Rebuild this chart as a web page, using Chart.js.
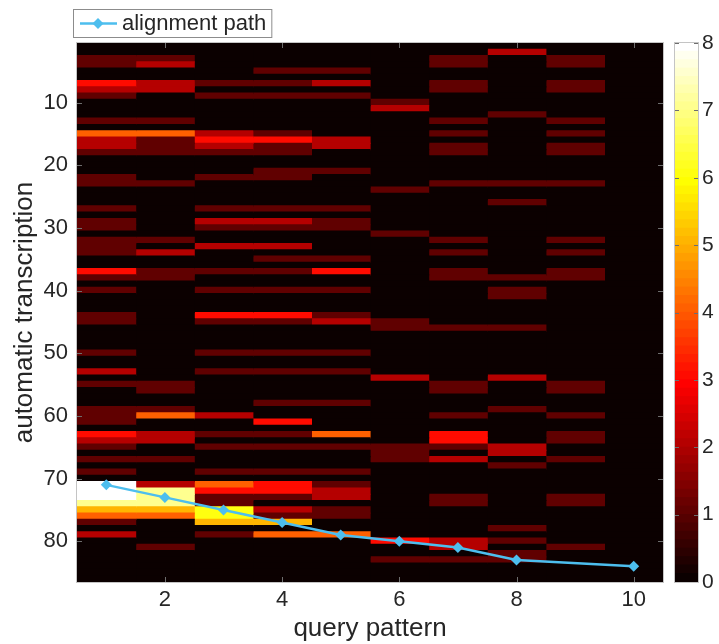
<!DOCTYPE html>
<html>
<head>
<meta charset="utf-8">
<title>alignment path</title>
<script src="https://cdn.jsdelivr.net/npm/chart.js@4.4.0/dist/chart.umd.min.js"></script>
<style>
  html, body { margin: 0; padding: 0; background: #fff; }
  #wrap { position: relative; width: 719px; height: 644px; }
  #costChart { position: absolute; left: 0; top: 0; }
  #barChart { position: absolute; left: 660px; top: 0; }
</style>
</head>
<body>
<div id="wrap">
  <canvas id="costChart" width="719" height="644"></canvas>
  <canvas id="barChart" width="59" height="644"></canvas>
</div>
<script>
// query pattern positions (columns) and tick labels
const queryIdx = [1, 2, 3, 4, 5, 6, 7, 8, 9, 10];
const xTicks = [2, 4, 6, 8, 10];
const yTicks = [10, 20, 30, 40, 50, 60, 70, 80];
const cbTicks = [0, 1, 2, 3, 4, 5, 6, 7, 8];
const cbMin = 0, cbMax = 8;

// cost values per query column, rows 1..86 of the automatic transcription
const col1 = [0,0,1,1,0,0,3,2,1,0, 0,0,1,0,4,2,2,1,0,0, 0,1,1,0,0,0,1,0,1,1, 0,1,1,1,0,0,3,1,0,1,
              0,0,0,1,1,0,0,0,0,1, 0,0,2,0,1,0,0,0,1,1, 1,0,3,2,1,0,1,0,1,0, 8,8,8,7,5,4,1,0,2,0, 0,0,0,0,0,0];
const col2 = [0,0,1,2,0,0,2,2,0,0, 0,0,1,0,4,1,1,1,0,0, 0,0,1,0,0,0,0,0,0,0, 0,1,0,2,0,0,1,1,0,0,
              0,0,0,0,0,0,0,0,0,0, 0,0,0,0,1,1,0,0,1,4, 0,0,2,2,0,0,1,0,0,0, 2,7,7,7,5,4,0,0,0,0, 1,0,0,0,0,0];
const col3 = [0,0,0,0,0,0,1,0,1,0, 0,0,0,0,2,3,2,1,0,0, 0,1,0,0,0,0,1,0,2,1, 0,0,2,0,0,0,1,0,0,1,
              0,0,0,3,1,0,0,0,0,1, 0,0,1,0,0,0,0,0,0,2, 0,0,1,0,1,0,0,0,1,0, 4,3,1,1,6,6,5,0,1,0, 0,0,0,0,0,0];
const col4 = [0,0,0,0,1,0,1,0,1,0, 0,0,0,0,1,3,1,1,0,0, 1,1,0,0,0,0,1,0,2,1, 0,0,2,0,1,0,1,0,0,1,
              0,0,0,3,1,0,0,0,0,1, 0,0,1,0,0,0,0,1,0,0, 3,0,1,0,1,0,0,0,1,0, 3,3,1,0,2,1,5,0,4,0, 0,0,0,0,0,0];
const col5 = [0,0,0,0,1,0,2,0,1,0, 0,0,0,0,0,2,2,0,0,0, 1,0,0,0,0,0,1,0,1,1, 0,0,0,0,1,0,3,0,0,1,
              0,0,0,1,2,0,0,0,0,1, 0,0,1,0,0,0,0,1,0,0, 0,0,4,0,1,0,0,0,1,0, 1,2,2,0,1,1,0,0,4,0, 0,0,0,0,0,0];
const col6 = [0,0,0,0,0,0,0,0,0,1, 2,0,0,0,0,0,0,0,0,0, 0,0,0,1,0,0,0,0,0,0, 1,0,0,0,0,0,0,0,0,0,
              0,0,0,0,1,1,0,0,0,0, 0,0,0,2,0,0,0,0,0,0, 0,0,0,0,1,1,1,0,0,0, 0,0,0,0,0,0,0,0,0,3, 0,0,1,0,0,0];
const col7 = [0,0,1,1,0,0,1,1,0,0, 0,0,1,0,1,0,1,1,0,0, 0,0,1,0,0,0,0,0,0,0, 0,1,0,1,0,0,1,1,0,0,
              0,0,0,0,0,1,0,0,0,0, 0,0,0,0,1,1,0,0,0,1, 0,0,3,3,1,0,2,0,0,0, 0,0,1,1,0,0,0,0,0,2, 2,0,1,0,0,0];
const col8 = [0,2,0,0,0,0,0,0,0,0, 0,1,0,0,0,0,0,0,0,0, 0,0,1,0,0,1,0,0,0,0, 0,0,0,0,0,0,0,1,0,1,
              1,0,0,0,0,1,0,0,0,0, 0,0,0,2,0,0,0,0,1,0, 0,0,0,0,2,2,0,1,0,0, 0,0,0,0,0,0,0,1,0,1, 0,1,1,0,0,0];
const col9 = [0,0,1,1,0,0,1,1,0,0, 0,0,1,0,1,0,1,1,0,0, 0,0,1,0,0,0,0,0,0,0, 0,1,0,1,0,0,1,1,0,0,
              0,0,0,0,0,0,0,0,0,0, 0,0,0,0,1,1,0,0,0,1, 0,0,1,1,0,0,1,0,0,0, 0,0,1,1,0,0,0,0,0,0, 1,0,0,0,0,0];
const col10 = [0,0,0,0,0,0,0,0,0,0, 0,0,0,0,0,0,0,0,0,0, 0,0,0,0,0,0,0,0,0,0, 0,0,0,0,0,0,0,0,0,0,
               0,0,0,0,0,0,0,0,0,0, 0,0,0,0,0,0,0,0,0,0, 0,0,0,0,0,0,0,0,0,0, 0,0,0,0,0,0,0,0,0,0, 0,0,0,0,0,0];

// alignment path (query pattern -> transcription row)
const pathQuery = [1, 2, 3, 4, 5, 6, 7, 8, 10];
const pathRow = [71, 73, 75, 77, 79, 80, 81, 83, 84];

const columns = [col1, col2, col3, col4, col5, col6, col7, col8, col9, col10];
const rowIdx = col1.map((v, i) => i + 1);

const fontFamily = '"Liberation Sans", Arial, Helvetica, sans-serif';
const textColor = '#262626';

// MATLAB style "hot" colormap, 64 levels
function hotColor(v) {
    const m = 64, n = 24;
    let k = Math.floor((v - cbMin) / (cbMax - cbMin) * m) + 1;
    k = Math.max(1, Math.min(m, k));
    const r = k <= n ? k / n : 1;
    const g = k <= n ? 0 : (k <= 2 * n ? (k - n) / n : 1);
    const b = k <= 2 * n ? 0 : (k - 2 * n) / (m - 2 * n);
    return 'rgb(' + Math.round(r * 255) + ',' + Math.round(g * 255) + ',' + Math.round(b * 255) + ')';
}

// fill the plot area with the lowest colour so no seams show between cells
const areaFill = {
    id: 'areaFill',
    beforeDatasetsDraw(chart) {
        const a = chart.chartArea;
        const g = chart.ctx;
        g.save();
        g.fillStyle = hotColor(cbMin);
        g.fillRect(a.left, a.top, a.right - a.left, a.bottom - a.top);
        g.restore();
    }
};

// frame and inward tick marks like the original axes
const axesFrame = {
    id: 'axesFrame',
    afterDatasetsDraw(chart, args, opts) {
        const g = chart.ctx;
        const a = chart.chartArea;
        g.save();
        g.strokeStyle = opts.tickColor;
        g.lineWidth = 1;
        g.beginPath();
        for (const id of Object.keys(chart.scales)) {
            const s = chart.scales[id];
            if (!s.options.display) continue;
            s.ticks.forEach(t => {
                const p = Math.round(s.getPixelForValue(t.value)) + 0.5;
                if (s.isHorizontal()) {
                    g.moveTo(p, a.top); g.lineTo(p, a.top + opts.tickLen);
                    g.moveTo(p, a.bottom); g.lineTo(p, a.bottom - opts.tickLen);
                } else {
                    g.moveTo(a.left, p); g.lineTo(a.left + opts.tickLen, p);
                    g.moveTo(a.right, p); g.lineTo(a.right - opts.tickLen, p);
                }
            });
        }
        g.stroke();
        g.strokeStyle = opts.color;
        g.strokeRect(a.left - 0.5, a.top - 0.5, a.right - a.left + 1, a.bottom - a.top + 1);
        g.restore();
    }
};

// legend box with line + diamond marker
const pathLegend = {
    id: 'pathLegend',
    afterDraw(chart) {
        const ds = chart.data.datasets[0];
        const g = chart.ctx;
        const left = chart.chartArea.left - 4, top = 9, h = 28;
        g.save();
        g.font = '22px ' + fontFamily;
        const w = 49 + g.measureText(ds.label).width + 5;
        g.fillStyle = '#fff';
        g.fillRect(left, top, w, h);
        g.strokeStyle = '#8c8c8c';
        g.lineWidth = 1;
        g.strokeRect(left + 0.5, top + 0.5, w, h);
        const ly = top + h / 2 + 0.5;
        g.strokeStyle = ds.borderColor;
        g.lineWidth = ds.borderWidth;
        g.beginPath();
        g.moveTo(left + 7, ly);
        g.lineTo(left + 44, ly);
        g.stroke();
        const cx = left + 25, r = ds.pointRadius;
        g.fillStyle = ds.backgroundColor;
        g.beginPath();
        g.moveTo(cx, ly - r); g.lineTo(cx + r, ly); g.lineTo(cx, ly + r); g.lineTo(cx - r, ly);
        g.closePath();
        g.fill();
        g.fillStyle = textColor;
        g.textBaseline = 'middle';
        g.fillText(ds.label, left + 49, ly);
        g.restore();
    }
};

const heatSets = columns.map((vals, c) => ({
    type: 'bar',
    label: 'query ' + queryIdx[c],
    data: vals.map((v, i) => ({ x: queryIdx[c], y: [rowIdx[i] - 0.5, rowIdx[i] + 0.5] })),
    backgroundColor: vals.map(hotColor),
    borderWidth: 0,
    inflateAmount: 0.6,
    grouped: false,
    barPercentage: 1,
    categoryPercentage: 1,
    order: 2
}));

const pathSet = {
    type: 'line',
    label: 'alignment path',
    data: pathQuery.map((q, i) => ({ x: q, y: pathRow[i] })),
    borderColor: '#4dbeee',
    backgroundColor: '#4dbeee',
    borderWidth: 2.5,
    pointStyle: 'rectRot',
    pointRadius: 5.5,
    pointBorderWidth: 0,
    order: 0
};

new Chart(document.getElementById('costChart').getContext('2d'), {
    type: 'bar',
    data: { datasets: [pathSet].concat(heatSets) },
    options: {
        responsive: false,
        animation: false,
        devicePixelRatio: 1,
        events: [],
        layout: { padding: { left: 0, top: 43, right: 56, bottom: 0 } },
        plugins: {
            legend: { display: false },
            tooltip: { enabled: false },
            axesFrame: { color: '#c4c4c4', tickColor: '#6e6e6e', tickLen: 5 }
        },
        scales: {
            x: {
                type: 'linear',
                min: 0.5,
                max: 10.5,
                offset: false,
                afterBuildTicks: s => { s.ticks = xTicks.map(v => ({ value: v })); },
                afterFit: s => { s.height = 62; },
                grid: { display: false, drawTicks: false },
                border: { display: false },
                ticks: { font: { family: fontFamily, size: 22 }, color: textColor, padding: 5, maxRotation: 0, autoSkip: false },
                title: { display: true, text: 'query pattern', font: { family: fontFamily, size: 26 }, color: textColor,
                         padding: { top: 0, bottom: 0 } }
            },
            y: {
                type: 'linear',
                reverse: true,
                min: 0.5,
                max: 86.5,
                afterBuildTicks: s => { s.ticks = yTicks.map(v => ({ value: v })); },
                afterFit: s => { s.width = 77; },
                grid: { display: false, drawTicks: false },
                border: { display: false },
                ticks: { font: { family: fontFamily, size: 22 }, color: textColor, padding: 9, autoSkip: false },
                title: { display: true, text: 'automatic transcription', font: { family: fontFamily, size: 26 }, color: textColor,
                         padding: { top: 9, bottom: 0 } }
            }
        }
    },
    plugins: [areaFill, axesFrame, pathLegend]
});

// colour bar: one segment per colormap level
const cbLevels = 64;
const cbSets = [];
for (let k = 0; k < cbLevels; k++) {
    const lo = cbMin + (cbMax - cbMin) * k / cbLevels;
    const hi = cbMin + (cbMax - cbMin) * (k + 1) / cbLevels;
    cbSets.push({
        data: [[lo, hi]],
        backgroundColor: hotColor((lo + hi) / 2),
        borderWidth: 0,
        inflateAmount: 0.6,
        grouped: false,
        barPercentage: 1,
        categoryPercentage: 1
    });
}

new Chart(document.getElementById('barChart').getContext('2d'), {
    type: 'bar',
    data: { labels: [''], datasets: cbSets },
    options: {
        responsive: false,
        animation: false,
        devicePixelRatio: 1,
        events: [],
        layout: { padding: { left: 15, top: 43, right: 0, bottom: 62 } },
        plugins: {
            legend: { display: false },
            tooltip: { enabled: false },
            axesFrame: { color: '#c4c4c4', tickColor: '#6e6e6e', tickLen: 4 }
        },
        scales: {
            x: { display: false },
            y: {
                position: 'right',
                min: cbMin,
                max: cbMax,
                afterBuildTicks: s => { s.ticks = cbTicks.map(v => ({ value: v })); },
                afterFit: s => { s.width = 21; },
                grid: { display: false, drawTicks: false },
                border: { display: false },
                ticks: { font: { family: fontFamily, size: 21 }, color: textColor, padding: 4, autoSkip: false }
            }
        }
    },
    plugins: [axesFrame]
});
</script>
</body>
</html>
